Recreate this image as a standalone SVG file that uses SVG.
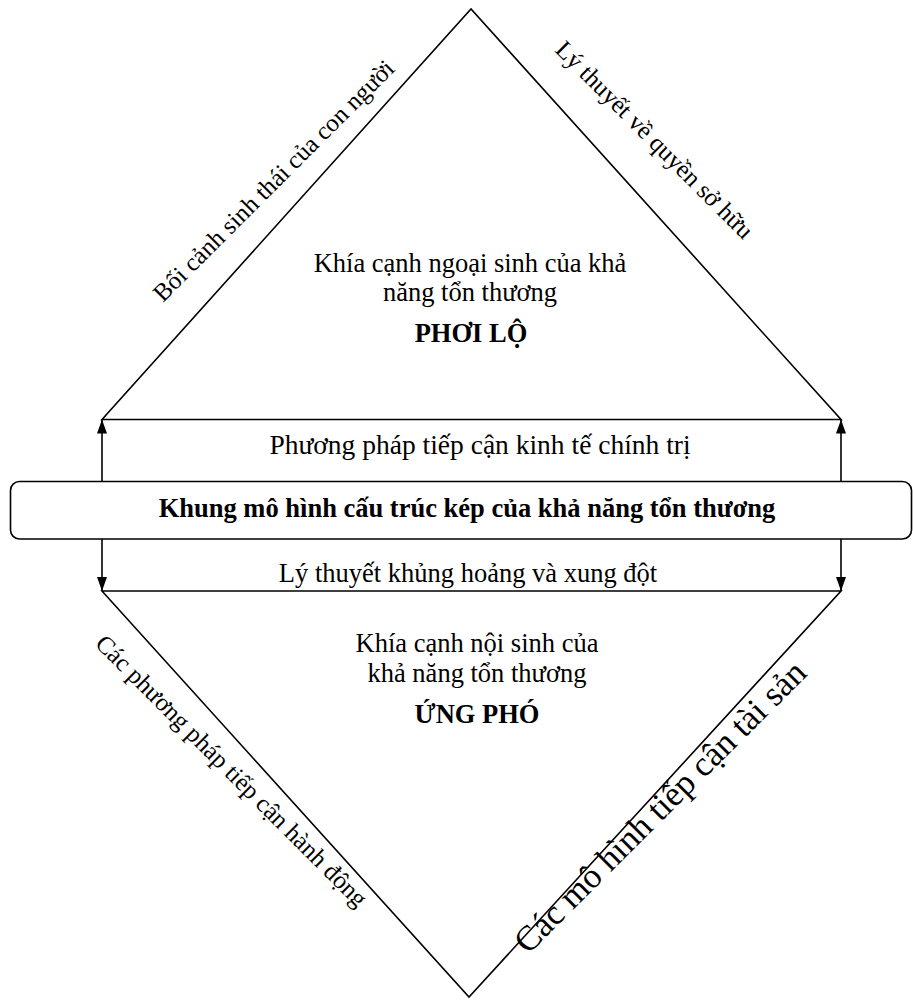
<svg xmlns="http://www.w3.org/2000/svg" width="913" height="1000" viewBox="0 0 913 1000">
<defs>
<style>
.ln{fill:none;stroke:#000;stroke-width:1.6}
.t{font-family:"Liberation Serif","Times New Roman",serif;fill:#000;font-size:26.5px}
.c{text-anchor:middle}
.b{font-weight:bold}
.s{font-family:"Liberation Serif","Times New Roman",serif;fill:#000;font-size:25px}
</style>
<marker id="ah" viewBox="0 0 14 10" refX="14" refY="5" markerWidth="14" markerHeight="10" markerUnits="userSpaceOnUse" orient="auto">
<path d="M0,0 L14,5 L0,10 z" fill="#000"/>
</marker>
</defs>
<rect width="913" height="1000" fill="#fff"/>
<g id="top-triangle">
<polygon class="ln" points="102,419.5 471,9 841,419.5"/>
<text class="t c" x="470" y="272">Khía cạnh ngoại sinh của khả</text>
<text class="t c" x="470" y="301">năng tổn thương</text>
<text class="t c b" x="471" y="342">PHƠI LỘ</text>
<text class="s" transform="translate(163,303) rotate(-45)">Bối cảnh sinh thái của con người</text>
<text class="s" transform="translate(554,51) rotate(45)">Lý thuyết về quyền sở hữu</text>
</g>
<g id="bottom-triangle">
<polygon class="ln" points="102,591 469,997 841,591"/>
<text class="t c" x="477" y="652">Khía cạnh nội sinh của</text>
<text class="t c" x="477" y="682">khả năng tổn thương</text>
<text class="t c b" x="477" y="723">ỨNG PHÓ</text>
<text class="s" transform="translate(94,645) rotate(45)">Các phương pháp tiếp cận hành động</text>
<text class="s" style="font-size:35px" transform="translate(528,955) rotate(-45)">Các mô hình tiếp cận tài sản</text>
</g>
<g id="center-box">
<rect class="ln" x="10.5" y="481.5" width="901" height="57.5" rx="9"/>
<text class="t c b" x="467" y="517">Khung mô hình cấu trúc kép của khả năng tổn thương</text>
</g>
<g id="label-political">
<text class="t c" x="480" y="454" style="font-size:27.5px">Phương pháp tiếp cận kinh tế chính trị</text>
</g>
<g id="label-crisis">
<text class="t c" x="468" y="582">Lý thuyết khủng hoảng và xung đột</text>
</g>
<g id="connectors">
<line class="ln" x1="102" y1="481.5" x2="102" y2="419.5" marker-end="url(#ah)"/>
<line class="ln" x1="841" y1="481.5" x2="841" y2="419.5" marker-end="url(#ah)"/>
<line class="ln" x1="102" y1="539" x2="102" y2="591" marker-end="url(#ah)"/>
<line class="ln" x1="841" y1="539" x2="841" y2="591" marker-end="url(#ah)"/>
</g>
</svg>
